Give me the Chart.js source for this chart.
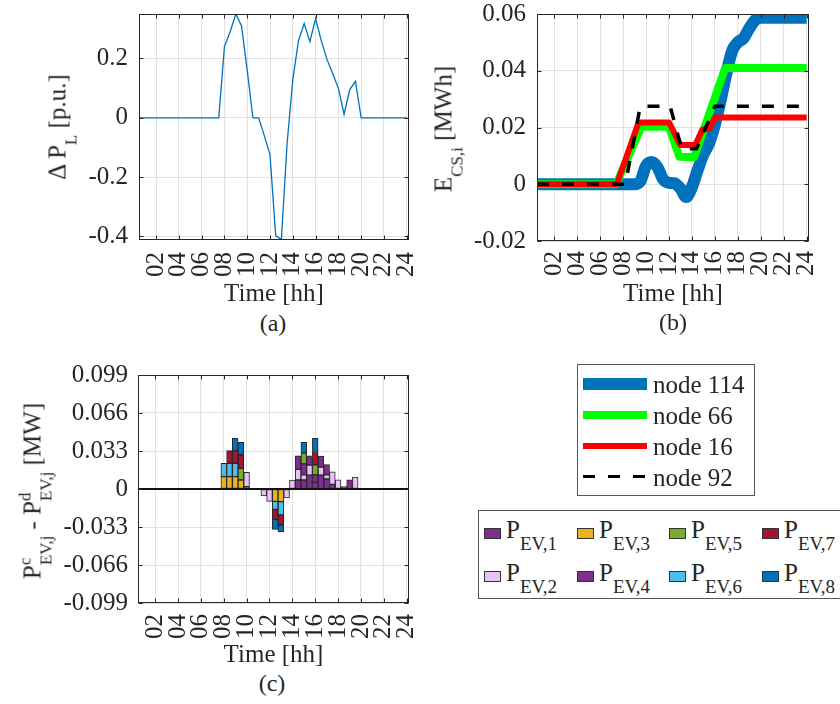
<!DOCTYPE html>
<html>
<head>
<meta charset="utf-8">
<script src="https://cdn.jsdelivr.net/npm/chart.js@4.4.1/dist/chart.umd.min.js"></script>
<style>
  html, body { margin: 0; background: #fff; overflow: hidden; }
  #page { position: relative; width: 840px; height: 704px; overflow: hidden;
          font-family: 'Liberation Serif', 'Times New Roman', serif; color: #262626; }
  canvas { position: absolute; }
  .txt { position: absolute; white-space: nowrap; line-height: 1; }
  .ytitle { font-size: 25px; transform: translate(-50%, -50%) rotate(-90deg); }
  .cap { font-size: 24px; transform: translate(-50%, -50%); }
  .sub { font-size: 17px; position: relative; top: 11px; }
  .ss { position: relative; display: inline-block; }
  .ss .sp { font-size: 17px; position: absolute; left: 0; top: -3px; }
  .box { position: absolute; border: 1px solid #555; box-sizing: border-box; background: #fff; }
  .leg { position: absolute; white-space: nowrap; line-height: 25px; font-size: 25px; }
  .leg .sub { font-size: 19px; top: 12px; }
  .sw { position: absolute; width: 17px; height: 11px; border: 1px solid #333; box-sizing: border-box; }
</style>
</head>
<body>
<div id="page">
  <canvas id="chartLoad" width="420" height="310" style="left:0;top:0"></canvas>
  <canvas id="chartEnergy" width="420" height="310" style="left:420px;top:0"></canvas>
  <canvas id="chartPower" width="420" height="310" style="left:0;top:360px"></canvas>

  <div class="txt ytitle" style="left:57px;top:127px">&Delta; P<span class="sub">L</span> [p.u.]</div>
  <div class="txt ytitle" style="left:443px;top:129px">E<span class="sub">CS,i</span> [MWh]</div>
  <div class="txt ytitle" style="left:32px;top:491px">P<span class="ss"><span class="sub">EV,j</span><span class="sp">c</span></span> - P<span class="ss"><span class="sub">EV,j</span><span class="sp">d</span></span> [MW]</div>

  <div class="txt cap" style="left:273px;top:323px">(a)</div>
  <div class="txt cap" style="left:673px;top:322px">(b)</div>
  <div class="txt cap" style="left:272px;top:683px">(c)</div>

  <div class="box" id="nodeLegend" style="left:577px;top:364px;width:178px;height:132px"></div>
  <div class="box" id="evLegend" style="left:478px;top:510px;width:362px;height:89px;border-right:none"></div>
</div>

<script>
// axes
const xTickValues = [2, 4, 6, 8, 10, 12, 14, 16, 18, 20, 22, 24];
const xTickLabels = ['02', '04', '06', '08', '10', '12', '14', '16', '18', '20', '22', '24'];

// (a) variation de charge
const loadHours = [0.5, 7.5, 8, 8.5, 9, 9.5, 10, 10.5, 11, 11.5, 12, 12.5, 13, 13.5, 14, 14.5, 15, 15.5, 16, 16.5, 17, 17.5, 18, 18.5, 19, 19.5, 20, 24];
const loadDelta = [0, 0, 0.24, 0.29, 0.35, 0.31, 0.16, 0, 0, -0.06, -0.125, -0.398, -0.41, -0.086, 0.129, 0.26, 0.318, 0.257, 0.334, 0.26, 0.197, 0.149, 0.10, 0.012, 0.095, 0.123, 0, 0];
const loadTicks = [-0.4, -0.2, 0, 0.2];
const loadTickLabels = ['-0.4', '-0.2', '0', '0.2'];

// (b) energie des stations
const nodeNames = ['node 114', 'node 66', 'node 16', 'node 92'];
const node114Hours = [0.5, 9, 9.5, 10, 10.5, 11, 11.5, 12, 12.5, 13, 13.5, 14, 14.5, 15, 15.5, 16, 16.5, 17, 17.5, 18, 18.5, 19, 19.5, 20, 24];
const node114Energy = [0, 0, 0.001, 0.0065, 0.0078, 0.006, 0.0017, 0.0005, 0.0003, -0.0015, -0.0045, -0.001, 0.005, 0.0105, 0.0145, 0.021, 0.0295, 0.039, 0.047, 0.050, 0.0515, 0.055, 0.0578, 0.0587, 0.0587];
const node66Hours = [0.5, 7.4, 9.6, 12, 12.9, 14.2, 16.9, 24];
const node66Energy = [0, 0, 0.0203, 0.0203, 0.0097, 0.0095, 0.041, 0.041];
const node16Hours = [0.5, 7.45, 9.35, 12, 13, 14.3, 14.9, 15.55, 16, 24];
const node16Energy = [0, 0, 0.0218, 0.0218, 0.0138, 0.0138, 0.0192, 0.0198, 0.0235, 0.0235];
const node92Hours = [0.5, 8.2, 9.5, 12.1, 13.1, 14.4, 16, 24];
const node92Energy = [0, 0, 0.0275, 0.0275, 0.0125, 0.0125, 0.0275, 0.0275];
const energyTicks = [-0.02, 0, 0.02, 0.04, 0.06];
const energyTickLabels = ['-0.02', '0', '0.02', '0.04', '0.06'];

// (c) puissance des VE
const barHours = [8, 8.5, 9, 9.5, 10, 10.5, 11, 11.5, 12, 12.5, 13, 13.5, 14, 14.5, 15, 15.5, 16, 16.5, 17, 17.5, 18, 18.5, 19, 19.5];
const ev1 = [0, 0, 0, 0, 0.002, 0, 0, 0, 0, 0, 0, 0, 0, 0.0078, 0.0078, 0.012, 0.006, 0.012, 0.0087, 0.004, 0, 0.002, 0, 0];
const ev2 = [0, 0, 0, 0, 0.0125, 0, 0, -0.006, -0.0107, 0, 0, -0.0078, 0.0078, 0.0093, 0.0045, 0.0087, 0, 0.007, 0.0035, 0.011, 0.008, 0, 0, 0.0104];
const ev3 = [0.0107, 0.0107, 0.0107, 0.0078, 0, 0, 0, 0, 0, -0.0107, -0.011, 0, 0, 0, 0, 0, 0, 0, 0, 0, 0, 0, 0, 0];
const ev4 = [0, 0, 0, 0, 0, 0, 0, 0, 0, 0, 0, 0, 0, 0.0116, 0.0095, 0.008, 0.0063, 0.0095, 0.009, 0, 0, 0, 0.008, 0];
const ev5 = [0, 0, 0, 0.0101, 0, 0, 0, 0, 0, 0, 0, 0, 0, 0, 0.0093, 0, 0.0087, 0, 0, 0, 0, 0, 0, 0];
const ev6 = [0.0116, 0.0116, 0.0116, 0, 0, 0, 0, 0, 0, -0.007, -0.0116, 0, 0, 0, 0, 0, 0, 0, 0, 0, 0, 0, 0, 0];
const ev7 = [0, 0.011, 0.011, 0.0116, 0, 0, 0, 0, 0, -0.0087, -0.0087, 0, 0, 0, 0, 0, 0.0116, 0, 0, 0, 0, 0, 0, 0];
const ev8 = [0, 0, 0.0107, 0.011, 0, 0, 0, 0, 0, -0.0087, -0.006, 0, 0, 0, 0.0094, 0, 0.0114, 0, 0, 0, 0, 0, 0, 0];
const evSeries = [ev1, ev2, ev3, ev4, ev5, ev6, ev7, ev8];
const evNames = ['EV,1', 'EV,2', 'EV,3', 'EV,4', 'EV,5', 'EV,6', 'EV,7', 'EV,8'];
const powerTicks = [-0.099, -0.066, -0.033, 0, 0.033, 0.066, 0.099];
const powerTickLabels = ['-0.099', '-0.066', '-0.033', '0', '0.033', '0.066', '0.099'];

// styles
const gridColor = '#e2e2e2';
const axisColor = '#262626';
const textColor = '#262626';
const fontFamily = "'Liberation Serif', 'Times New Roman', serif";
const tickFont = { family: fontFamily, size: 25 };
const titleFont = { family: fontFamily, size: 25 };
const nodeColors = ['#0072BD', '#00FF00', '#FF0000', '#000000'];
const nodeWidths = [12, 8, 6, 3.5];
const evColors = ['#7E2F8E', '#E8C2F5', '#EDB120', '#7E2F8E', '#77AC30', '#4DBEEE', '#A2142F', '#0072BD'];

function toPoints(xs, ys) {
    return xs.map((x, i) => ({ x: x, y: ys[i] }));
}

function makeX(height, pad, titlePad, stacked) {
    return {
        type: 'linear', min: 0.5, max: 24.2, offset: false, stacked: stacked,
        afterBuildTicks: s => { s.ticks = xTickValues.map(v => ({ value: v })); },
        afterFit: s => { s.height = height; s.paddingLeft = 0; s.paddingRight = 0; },
        grid: { color: gridColor, drawTicks: false, offset: false },
        border: { display: false },
        ticks: {
            autoSkip: false, minRotation: 90, maxRotation: 90, padding: pad,
            color: textColor, font: tickFont,
            callback: v => xTickLabels[xTickValues.indexOf(v)]
        },
        title: { display: true, text: 'Time [hh]', color: textColor, font: titleFont, padding: { top: 0, bottom: titlePad } }
    };
}

function makeY(values, labels, min, max, width, pad, stacked) {
    return {
        type: 'linear', min: min, max: max, stacked: stacked,
        afterBuildTicks: s => { s.ticks = values.map(v => ({ value: v })); },
        afterFit: s => { s.width = width; s.paddingTop = 0; s.paddingBottom = 0; },
        grid: { color: gridColor, drawTicks: false },
        border: { display: false },
        ticks: { padding: pad, color: textColor, font: tickFont, callback: v => labels[values.indexOf(v)] }
    };
}

// cadre + graduations vers l'interieur (style MATLAB)
const boxPlugin = {
    id: 'box',
    afterDraw(chart) {
        const { ctx, chartArea: a, scales } = chart;
        const L = Math.round(a.left) + 0.5, R = Math.round(a.right) - 0.5;
        const T = Math.round(a.top) + 0.5, B = Math.round(a.bottom) - 0.5;
        ctx.save();
        ctx.strokeStyle = axisColor;
        ctx.lineWidth = 1;
        ctx.strokeRect(L, T, R - L, B - T);
        ctx.beginPath();
        scales.x.ticks.forEach(t => {
            const px = Math.round(scales.x.getPixelForValue(t.value)) + 0.5;
            ctx.moveTo(px, B); ctx.lineTo(px, B - 4);
            ctx.moveTo(px, T); ctx.lineTo(px, T + 4);
        });
        scales.y.ticks.forEach(t => {
            const py = Math.round(scales.y.getPixelForValue(t.value)) + 0.5;
            ctx.moveTo(L, py); ctx.lineTo(L + 4, py);
            ctx.moveTo(R, py); ctx.lineTo(R - 4, py);
        });
        ctx.stroke();
        ctx.restore();
    }
};

const zeroLine = {
    id: 'zeroLine',
    afterDatasetsDraw(chart) {
        const { ctx, chartArea: a, scales } = chart;
        const y = Math.round(scales.y.getPixelForValue(0));
        ctx.save();
        ctx.strokeStyle = '#111';
        ctx.lineWidth = 2;
        ctx.beginPath();
        ctx.moveTo(a.left, y);
        ctx.lineTo(a.right, y);
        ctx.stroke();
        ctx.restore();
    }
};

const common = {
    responsive: false, animation: false, events: [], devicePixelRatio: 1,
    plugins: { legend: { display: false }, tooltip: { enabled: false } }
};

new Chart(document.getElementById('chartLoad'), {
    type: 'line',
    data: {
        datasets: [{
            data: toPoints(loadHours, loadDelta),
            borderColor: '#0072BD', borderWidth: 1.3, pointRadius: 0, tension: 0
        }]
    },
    options: Object.assign({}, common, {
        layout: { padding: { left: 0, right: 11, top: 14, bottom: 0 } },
        scales: {
            x: makeX(70, 12, 1, false),
            y: makeY(loadTicks, loadTickLabels, -0.412, 0.35, 139, 11, false)
        }
    }),
    plugins: [boxPlugin]
});

const energyData = [
    toPoints(node114Hours, node114Energy),
    toPoints(node66Hours, node66Energy),
    toPoints(node16Hours, node16Energy),
    toPoints(node92Hours, node92Energy)
];

new Chart(document.getElementById('chartEnergy'), {
    type: 'line',
    data: {
        datasets: nodeNames.map((name, i) => ({
            label: name,
            data: energyData[i],
            borderColor: nodeColors[i],
            borderWidth: nodeWidths[i],
            borderDash: i === 3 ? [12, 13] : [],
            borderJoinStyle: 'round',
            borderCapStyle: 'butt',
            cubicInterpolationMode: i === 0 ? 'monotone' : 'default',
            pointRadius: 0,
            clip: 0,
            order: 4 - i
        }))
    },
    options: Object.assign({}, common, {
        layout: { padding: { left: 0, right: 31, top: 14, bottom: 0 } },
        scales: {
            x: makeX(69, 10, 1, false),
            y: makeY(energyTicks, energyTickLabels, -0.02, 0.06, 117, 11, false)
        }
    }),
    plugins: [boxPlugin]
});

new Chart(document.getElementById('chartPower'), {
    type: 'bar',
    data: {
        datasets: evSeries.map((s, i) => ({
            label: 'P ' + evNames[i],
            data: toPoints(barHours, s),
            backgroundColor: evColors[i],
            borderColor: '#262626',
            borderWidth: 1,
            borderSkipped: false,
            barPercentage: 1,
            categoryPercentage: 1
        }))
    },
    options: Object.assign({}, common, {
        layout: { padding: { left: 0, right: 11, top: 15, bottom: 0 } },
        scales: {
            x: makeX(67, 11, 0, true),
            y: makeY(powerTicks, powerTickLabels, -0.099, 0.099, 138, 10, true)
        }
    }),
    plugins: [zeroLine, boxPlugin]
});

// legende des noeuds
const page = document.getElementById('page');
nodeNames.forEach((name, i) => {
    const cy = 383.5 + 31 * i;
    const s = document.createElement('div');
    s.style.position = 'absolute';
    s.style.left = '583px';
    s.style.width = '64px';
    s.style.height = nodeWidths[i] + 'px';
    s.style.top = (cy - nodeWidths[i] / 2) + 'px';
    if (i === 3) {
        s.style.background = 'repeating-linear-gradient(to right, #000 0 12px, transparent 12px 25px)';
    } else {
        s.style.background = nodeColors[i];
    }
    page.appendChild(s);
    const t = document.createElement('div');
    t.className = 'leg';
    t.style.left = '653px';
    t.style.top = (cy + 9 - 21) + 'px';
    t.textContent = name;
    page.appendChild(t);
});

// legende des VE
const evColX = [484, 577, 669, 762];
const evRowY = [533.7, 576];
evNames.forEach((name, i) => {
    const col = Math.floor(i / 2), row = i % 2;
    const cy = evRowY[row];
    const sw = document.createElement('div');
    sw.className = 'sw';
    sw.style.left = evColX[col] + 'px';
    sw.style.top = (cy - 5.5) + 'px';
    sw.style.background = evColors[i];
    page.appendChild(sw);
    const t = document.createElement('div');
    t.className = 'leg';
    t.style.left = (evColX[col] + 22) + 'px';
    t.style.top = (cy + 4.5 - 21) + 'px';
    t.innerHTML = 'P<span class="sub">' + name + '</span>';
    page.appendChild(t);
});
</script>
</body>
</html>
